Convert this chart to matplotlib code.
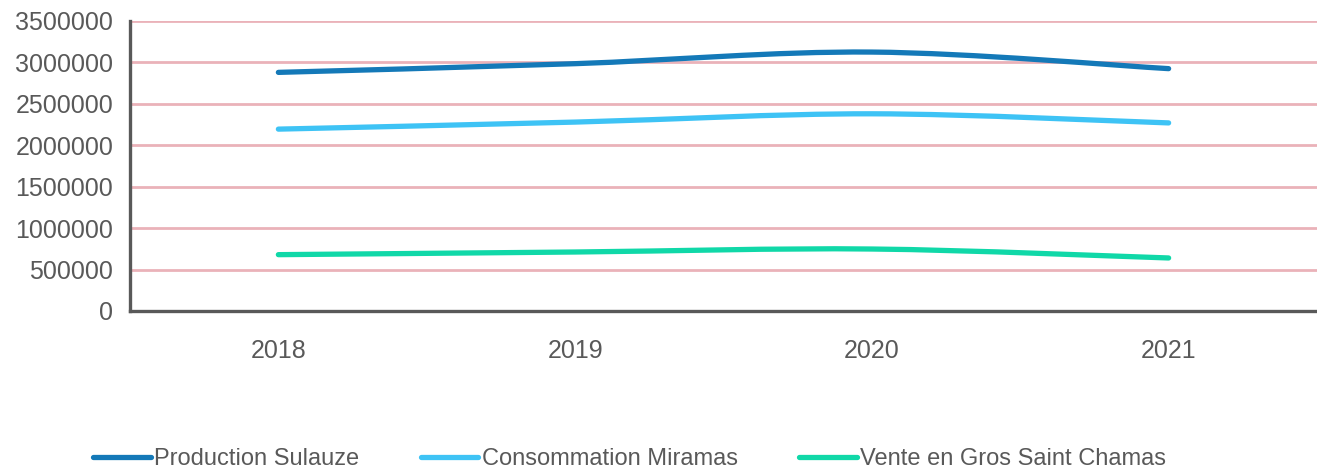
import matplotlib.pyplot as plt
import numpy as np
from matplotlib.path import Path
from matplotlib.patches import PathPatch
from matplotlib.lines import Line2D

plt.rcParams['font.family'] = ['Liberation Sans', 'DejaVu Sans']

years = ["2018", "2019", "2020", "2021"]
production_sulauze = [2880000, 2985000, 3125000, 2925000]
consommation_miramas = [2195000, 2280000, 2380000, 2270000]
vente_gros_saint_chamas = [680000, 712000, 748000, 640000]

series = [
    ("Production Sulauze", production_sulauze, "#1479b8"),
    ("Consommation Miramas", consommation_miramas, "#3ec3f5"),
    ("Vente en Gros Saint Chamas", vente_gros_saint_chamas, "#10d8a8"),
]


def smooth_path(xs, ys):
    # courbe lissée type Excel (Catmull-Rom -> Bezier)
    pts = list(zip(xs, ys))
    verts = [pts[0]]
    codes = [Path.MOVETO]
    for i in range(len(pts) - 1):
        p0 = pts[i - 1] if i > 0 else pts[i]
        p1 = pts[i]
        p2 = pts[i + 1]
        p3 = pts[i + 2] if i + 2 < len(pts) else pts[i + 1]
        c1 = (p1[0] + (p2[0] - p0[0]) / 6, p1[1] + (p2[1] - p0[1]) / 6)
        c2 = (p2[0] - (p3[0] - p1[0]) / 6, p2[1] - (p3[1] - p1[1]) / 6)
        verts += [c1, c2, p2]
        codes += [Path.CURVE4] * 3
    return Path(verts, codes)


fig = plt.figure(figsize=(13.17, 4.69), dpi=100)
ax = fig.add_axes([130 / 1317, (469 - 311) / 469, 1 - 130 / 1317, 290 / 469])

x = np.arange(len(years))
ax.set_xlim(-0.5, len(years) - 0.5)
ax.set_ylim(0, 3500000)
ax.set_yticks(np.arange(0, 3500001, 500000))
ax.set_yticklabels([f"{v:d}" for v in range(0, 3500001, 500000)])
ax.set_xticks(x)
ax.set_xticklabels(years)

for v in range(500000, 3500001, 500000):
    ax.axhline(v, color="#eab2b9", lw=2.0, zorder=1)

handles = []
for name, vals, color in series:
    patch = PathPatch(smooth_path(x, vals), facecolor="none", edgecolor=color,
                      lw=3.8, capstyle="round", joinstyle="round", zorder=3)
    ax.add_patch(patch)
    handles.append(Line2D([], [], color=color, lw=3.8, solid_capstyle="round"))

for s in ["top", "right"]:
    ax.spines[s].set_visible(False)
for s in ["left", "bottom"]:
    ax.spines[s].set_color("#595959")
    ax.spines[s].set_linewidth(2.4)
ax.spines["left"].set_bounds(0, 3500000)

ax.tick_params(axis="both", length=0, colors="#595959", labelsize=18)
ax.tick_params(axis="x", pad=20)
ax.tick_params(axis="y", pad=12)

fig.legend(handles, [s[0] for s in series], loc="lower center", ncol=3,
           bbox_to_anchor=(0.478, -0.048), frameon=False, fontsize=17,
           handlelength=2.45, handletextpad=0.13, columnspacing=2.6,
           labelcolor="#595959")

fig.savefig("out.png", dpi=100)
